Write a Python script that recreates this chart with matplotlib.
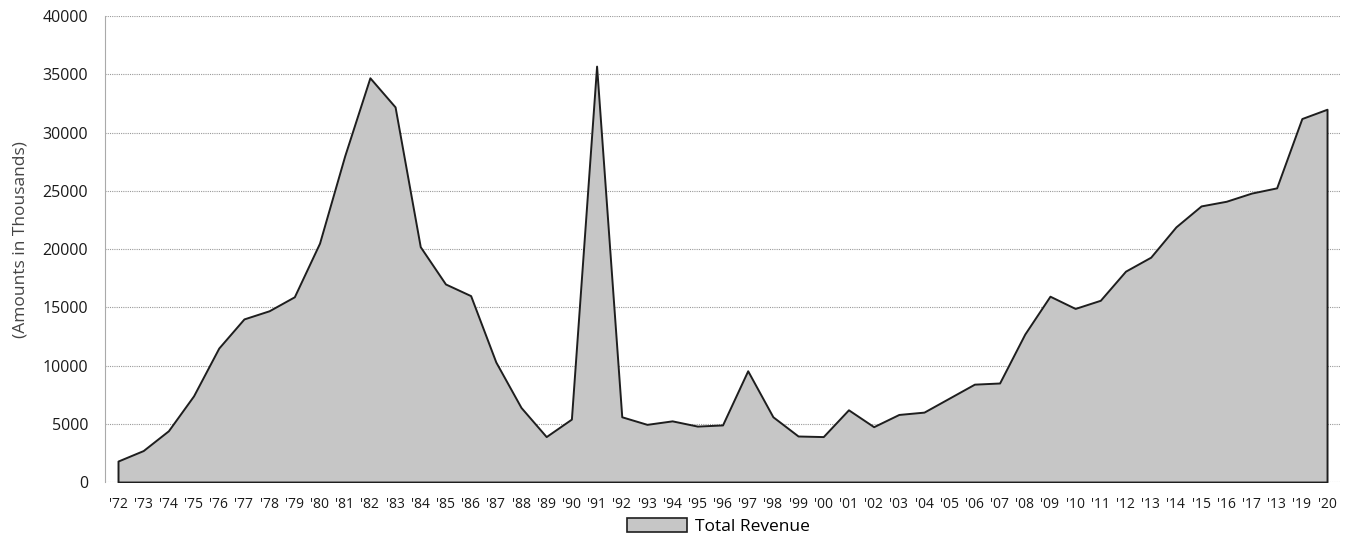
import matplotlib.pyplot as plt
from matplotlib.patches import Patch

# tick labels as printed (the '18 slot is printed as '13 in the original)
years = ["'72", "'73", "'74", "'75", "'76", "'77", "'78", "'79", "'80", "'81",
         "'82", "'83", "'84", "'85", "'86", "'87", "'88", "'89", "'90", "'91",
         "'92", "'93", "'94", "'95", "'96", "'97", "'98", "'99", "'00", "'01",
         "'02", "'03", "'04", "'05", "'06", "'07", "'08", "'09", "'10", "'11",
         "'12", "'13", "'14", "'15", "'16", "'17", "'13", "'19", "'20"]
revenue = [1800, 2700, 4400, 7400, 11500, 14000, 14700, 15900, 20500, 28000,
           34700, 32200, 20200, 17000, 16000, 10300, 6400, 3900, 5400, 35700,
           5600, 4950, 5250, 4800, 4900, 9550, 5600, 3950, 3900, 6200,
           4750, 5800, 6000, 7200, 8400, 8500, 12700, 15950, 14900, 15600,
           18100, 19300, 21900, 23700, 24100, 24800, 25250, 31200, 32000]
yticks = [0, 5000, 10000, 15000, 20000, 25000, 30000, 35000, 40000]

plt.rcParams['font.family'] = ['Open Sans', 'DejaVu Sans']

fig = plt.figure(figsize=(13.45, 5.43), dpi=100)
ax = fig.add_axes([0.078, 0.1123, 0.918, 0.8582])

x = list(range(len(years)))
ax.fill_between(x, revenue, 0, facecolor='#c6c6c6', edgecolor='#1e1e1e',
                linewidth=1.4, zorder=3)

ax.set_xlim(-0.52, len(years) - 0.5)
ax.set_ylim(0, 40000)
ax.set_yticks(yticks)
ax.set_yticklabels([str(v) for v in yticks], fontsize=11.5, color='#1a1a1a')
ax.set_xticks(x)
ax.set_xticklabels(years, fontsize=10, color='#1a1a1a')
ax.tick_params(axis='both', length=0)
ax.tick_params(axis='y', pad=12)
ax.tick_params(axis='x', pad=11)

ax.grid(axis='y', color='#9a9a9a', linestyle=(0, (1, 1)), linewidth=0.8, zorder=0)
for s in ['top', 'right', 'bottom']:
    ax.spines[s].set_visible(False)
ax.spines['left'].set_color('#aaaaaa')
ax.spines['left'].set_linewidth(0.8)

ax.set_ylabel('(Amounts in Thousands)', fontsize=12.5, color='#444444', labelpad=12)
ax.yaxis.set_label_coords(-0.062, 0.52)

handle = Patch(facecolor='#c6c6c6', edgecolor='#1e1e1e', linewidth=1.2)
fig.legend([handle], ['Total Revenue'], loc='lower center',
           bbox_to_anchor=(0.534, -0.014), frameon=False, fontsize=12.5,
           handlelength=3.5, handleheight=0.95, handletextpad=0.45)

fig.savefig('out.png', dpi=100)
